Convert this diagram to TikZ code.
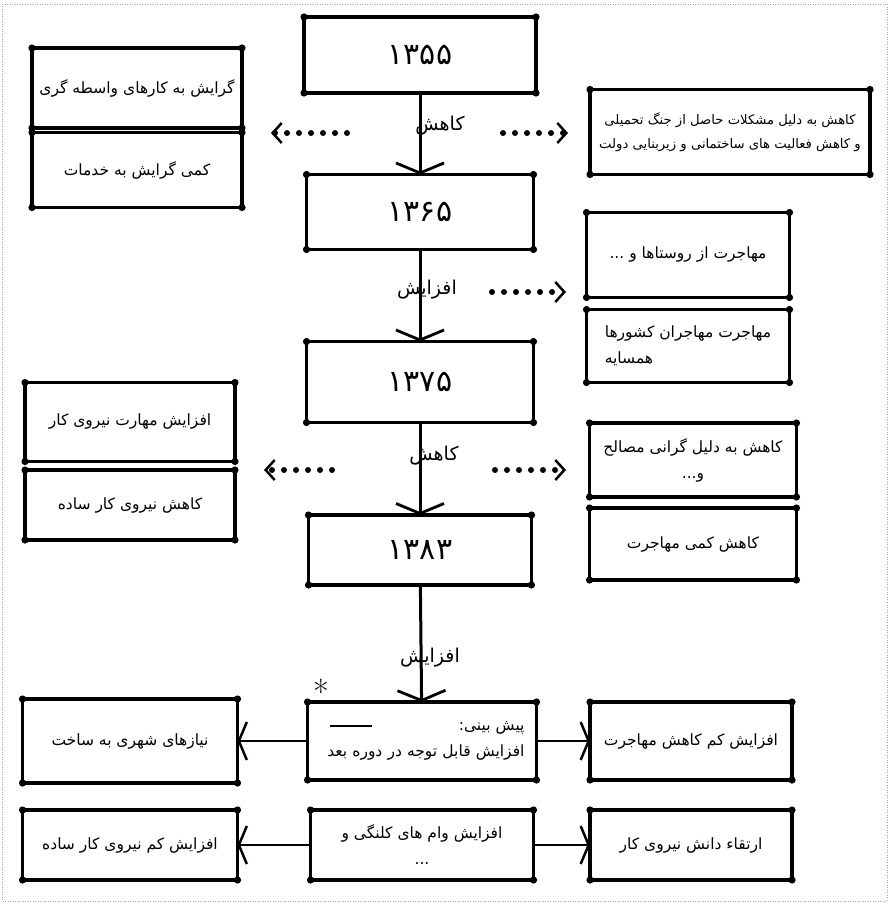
\documentclass[tikz,border=0pt]{standalone}
\usepackage{fontspec}
\newfontfamily\farsi[Script=Arabic]{DejaVu Sans}
\TeXXeTstate=1
\usetikzlibrary{arrows.meta}
\newcommand{\fa}[1]{\beginR #1\endR}
\tikzset{
  box/.style={draw, line width=3.5pt, rectangle, outer sep=0pt, inner sep=2pt,
    align=center, font=\farsi\fontsize{15.5}{26}\selectfont},
  yearbox/.style={box, font=\farsi\fontsize{30}{34}\selectfont},
  flow/.style={line width=3pt, -{Straight Barb[length=10pt,width=48pt,line width=2.8pt]}},
  side/.style={line width=1.8pt, -{Straight Barb[length=8pt,width=38pt,line width=2.5pt]}},
  dots/.style={line width=6pt, line cap=round, dash pattern=on 0pt off 12pt,
    -{Straight Barb[length=9pt,width=20pt,line width=2.5pt]}},
  lbl/.style={font=\farsi\fontsize{19}{22}\selectfont}
}
\begin{document}
\begin{tikzpicture}[x=1pt,y=-1pt]
  \useasboundingbox (0,0) rectangle (889,904);
  \draw[gray!70, line width=0.8pt, dash pattern=on 1pt off 1.5pt] (2,4) rectangle (887,901);

  % middle column
  \node[yearbox, minimum width=232pt, minimum height=76pt] (y1355) at (420,55) {\fa{۱۳۵۵}};
  \node[yearbox, minimum width=227pt, minimum height=75pt] (y1365) at (420,212) {\fa{۱۳۶۵}};
  \node[yearbox, minimum width=227pt, minimum height=81pt] (y1375) at (420,382) {\fa{۱۳۷۵}};
  \node[yearbox, minimum width=223pt, minimum height=70pt] (y1383) at (420,550) {\fa{۱۳۸۳}};
  \node[box, align=right, text width=205pt, minimum width=229pt, minimum height=78pt] (fcst) at (422,741)
    {\fa{پیش بینی:}\\ \fa{افزایش قابل توجه در دوره بعد}};
  \node[box, minimum width=223pt, minimum height=70pt] (loan) at (422,845)
    {\fa{افزایش وام های کلنگی و}\\ \fa{...}};

  % left column
  \node[box, minimum width=210pt, minimum height=80pt] (broker) at (137,88) {\fa{گرایش به کارهای واسطه گری}};
  \node[box, minimum width=210pt, minimum height=75pt] (serv) at (137,170) {\fa{کمی گرایش به خدمات}};
  \node[box, minimum width=210pt, minimum height=79pt] (skill) at (130,422) {\fa{افزایش مهارت نیروی کار}};
  \node[box, minimum width=210pt, minimum height=70pt] (simple) at (130,505) {\fa{کاهش نیروی کار ساده}};
  \node[box, minimum width=215pt, minimum height=84pt] (urban) at (130,741) {\fa{نیازهای شهری به ساخت}};
  \node[box, minimum width=215pt, minimum height=70pt] (fewlab) at (130,845) {\fa{افزایش کم نیروی کار ساده}};

  % right column
  \node[box, font=\farsi\fontsize{13.2}{24}\selectfont, minimum width=280pt, minimum height=85pt] (war) at (730,132)
    {\fa{کاهش به دلیل مشکلات حاصل از جنگ تحمیلی}\\ \fa{و کاهش فعالیت های ساختمانی و زیربنایی دولت}};
  \node[box, minimum width=203pt, minimum height=85pt] (rural) at (688,255) {\fa{مهاجرت از روستاها و ...}};
  \node[box, align=left, minimum width=203pt, minimum height=73pt] (neigh) at (688,346)
    {\fa{مهاجرت مهاجران کشورها}\\ \fa{همسایه}};
  \node[box, minimum width=207pt, minimum height=74pt] (price) at (693,460)
    {\fa{کاهش به دلیل گرانی مصالح}\\ \fa{و...}};
  \node[box, minimum width=207pt, minimum height=72pt] (lessmig) at (693,544) {\fa{کاهش کمی مهاجرت}};
  \node[box, minimum width=202pt, minimum height=78pt] (migr) at (691,741) {\fa{افزایش کم کاهش مهاجرت}};
  \node[box, minimum width=202pt, minimum height=70pt] (know) at (691,845) {\fa{ارتقاء دانش نیروی کار}};

  % blobs on the corners
  \foreach \n in {y1355,y1365,y1375,y1383,fcst,loan,broker,serv,skill,simple,urban,fewlab,
                  war,rural,neigh,price,lessmig,migr,know}
    \foreach \a in {north west,north east,south west,south east}
      \fill (\n.\a) circle (3.6pt);

  % labels on the flow
  \node[lbl] (dec1) at (440,126) {\fa{کاهش}};
  \node[lbl] (inc1) at (427,290) {\fa{افزایش}};
  \node[lbl] (dec2) at (434,456) {\fa{کاهش}};
  \node[lbl] (inc2) at (430,658) {\fa{افزایش}};
  \node[font=\fontsize{34}{34}\selectfont] (star) at (321,692) {*};

  \draw[flow] (y1355) -- (y1365);
  \draw[flow] (y1365) -- (y1375);
  \draw[flow] (y1375) -- (y1383);
  \draw[flow] (y1383) -- (fcst);

  \draw[side] (fcst) -- (urban);
  \draw[side] (fcst) -- (migr);
  \draw[side] (loan) -- (fewlab);
  \draw[side] (loan) -- (know);

  % dotted side arrows
  \coordinate (a1) at (347,133); \coordinate (a1e) at (271,133);
  \coordinate (b1) at (503,133); \coordinate (b1e) at (568,133);
  \coordinate (b2) at (492,292); \coordinate (b2e) at (566,292);
  \coordinate (a3) at (332,470); \coordinate (a3e) at (264,470);
  \coordinate (b3) at (495,470); \coordinate (b3e) at (566,470);
  \draw[dots] (a1) -- (a1e);
  \draw[dots] (b1) -- (b1e);
  \draw[dots] (b2) -- (b2e);
  \draw[dots] (a3) -- (a3e);
  \draw[dots] (b3) -- (b3e);

  \draw[line width=1.5pt] (330,726) -- (372,726);
\end{tikzpicture}
\end{document}
